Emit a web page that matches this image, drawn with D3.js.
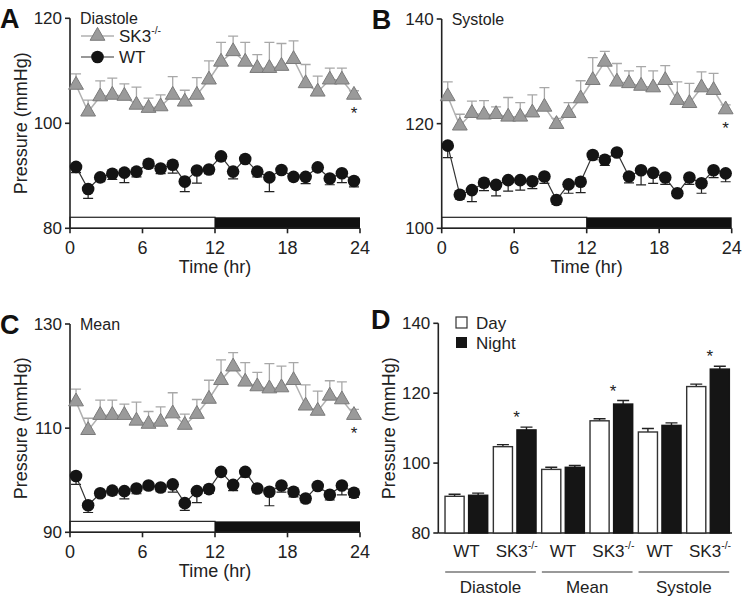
<!DOCTYPE html>
<html><head><meta charset="utf-8">
<script src="https://cdn.jsdelivr.net/npm/d3@7"></script>
<style>
body{margin:0;background:#fff;}
svg{display:block;font-family:"Liberation Sans",Arial,sans-serif;}
</style></head>
<body><svg id="c" width="742" height="597"></svg>
<script>
// ---------- data ----------
const hours = [0.5,1.5,2.5,3.5,4.5,5.5,6.5,7.5,8.5,9.5,10.5,11.5,12.5,13.5,14.5,15.5,16.5,17.5,18.5,19.5,20.5,21.5,22.5,23.5];
const xTicks = [0,6,12,18,24];

const diaSK3 = [107.3,102.2,105.1,105.4,105.2,103.5,102.9,103.2,105.4,104.1,105.4,108.3,111.7,113.7,111.7,110.5,110.5,110.9,112.2,107.6,106.0,108.3,108.3,105.4];
const diaSK3Err = [2.1,2.2,3.0,3.2,2.3,3.4,1.9,2.2,3.5,2.2,3.3,3.6,3.7,2.9,3.7,2.6,4.9,4.3,3.5,3.6,3.0,2.2,2.2,0.8];
const diaWT = [91.7,87.5,89.7,90.4,90.6,90.8,92.3,91.4,92.1,88.9,91.0,91.2,93.7,90.8,93.2,90.8,89.7,91.1,89.8,89.8,91.6,89.5,90.5,89.0];
const diaWTErr = [1.1,1.8,0.8,1.1,1.9,1.0,0.8,1.0,1.6,1.9,2.4,0.8,0.8,1.4,0.8,1.0,2.7,0.6,0.6,1.3,0.6,1.2,1.8,1.1];

const sysSK3 = [125.2,119.6,122.0,121.7,121.8,121.3,121.3,122.1,123.2,119.9,122.0,124.8,128.3,131.8,128.0,127.7,127.2,126.9,128.3,124.5,123.9,126.9,126.4,122.7];
const sysSK3Err = [2.8,2.2,2.3,2.7,1.4,3.7,2.7,3.4,3.7,1.1,2.0,3.4,4.3,2.0,3.5,2.4,3.7,3.2,2.8,3.5,3.8,3.0,3.2,0.9];
const sysWT = [115.8,106.4,107.3,108.7,108.3,109.2,109.2,109.0,109.9,105.4,108.4,108.9,114.0,113.1,114.5,109.9,111.1,110.6,109.7,106.7,109.7,108.6,111.1,110.5];
const sysWTErr = [2.3,0.8,2.2,1.5,2.1,2.1,1.9,1.4,1.3,0.8,1.7,2.1,0.9,1.1,0.7,1.2,2.8,2.0,1.3,0.6,1.3,1.9,1.4,1.6];

const meanSK3 = [115.1,109.6,112.5,112.5,112.5,111.4,110.8,111.2,112.8,110.6,112.7,115.6,119.2,121.8,118.9,118.0,117.6,117.8,119.2,114.3,113.3,116.2,115.5,112.5];
const meanSK3Err = [2.4,2.3,2.9,2.9,2.1,3.6,2.4,2.9,4.0,2.1,2.8,3.6,3.9,2.7,3.7,2.7,4.8,4.1,3.4,4.0,3.8,2.9,3.4,1.1];
const meanWT = [100.8,95.2,97.5,98.0,97.9,98.4,99.0,98.6,99.2,95.6,97.9,98.3,101.6,99.1,101.6,98.4,97.8,99.0,97.8,96.5,98.9,97.2,99.0,97.6];
const meanWTErr = [1.6,1.4,0.6,0.8,1.5,1.0,0.8,0.8,1.5,1.4,2.2,0.8,0.6,1.1,1.0,0.8,2.7,1.3,1.0,0.8,0.8,1.0,1.8,0.9];

const barGroups = ["WT","SK3","WT","SK3","WT","SK3"];
const barCategories = ["Diastole","Mean","Systole"];
const dayVals = [90.5,104.7,98.2,112.1,108.9,121.9];
const dayErr = [0.6,0.6,0.6,0.6,1.0,0.7];
const nightVals = [90.8,109.5,98.8,116.9,110.8,126.9];
const nightErr = [0.6,0.8,0.5,1.0,0.7,0.8];
const barTicks = [80,100,120,140];

// ---------- drawing ----------
const svg = d3.select("#c");
const FONT = 17;

function sk3Label(sel, fs){
  sel.append("tspan").text("SK3");
  sel.append("tspan").attr("dy", -fs*0.45).attr("font-size", fs*0.62).text("-/-");
}

function drawAxesY(g, y, x0, ticks){
  g.append("line").attr("x1",x0).attr("x2",x0).attr("y1",y.range()[0]).attr("y2",y.range()[1])
    .attr("stroke","#222").attr("stroke-width",1.6);
  ticks.forEach(t=>{
    g.append("line").attr("x1",x0-5).attr("x2",x0).attr("y1",y(t)).attr("y2",y(t)).attr("stroke","#222").attr("stroke-width",1.6);
    g.append("text").attr("x",x0-8).attr("y",y(t)+6).attr("text-anchor","end").attr("font-size",FONT).attr("fill","#222").text(t);
  });
}

function linePanel(o){
  const g = svg.append("g");
  const x = d3.scaleLinear().domain([0,24]).range([o.x0,o.x1]);
  const y = d3.scaleLinear().domain(o.ydom).range([o.y0,o.y1]);
  // light/dark bar
  const ybTop = y(o.ydom[0]+2.1);
  g.append("rect").attr("x",x(0)).attr("y",ybTop).attr("width",x(12)-x(0)).attr("height",y(o.ydom[0])-ybTop)
    .attr("fill","#fff").attr("stroke","#222").attr("stroke-width",1.2);
  g.append("rect").attr("x",x(12)).attr("y",ybTop).attr("width",x(24)-x(12)).attr("height",y(o.ydom[0])-ybTop)
    .attr("fill","#111");
  // axes
  drawAxesY(g, y, o.x0, o.yticks);
  g.append("line").attr("x1",o.x0).attr("x2",o.x1).attr("y1",o.y0).attr("y2",o.y0).attr("stroke","#222").attr("stroke-width",1.6);
  xTicks.forEach(t=>{
    g.append("line").attr("x1",x(t)).attr("x2",x(t)).attr("y1",o.y0).attr("y2",o.y0+5).attr("stroke","#222").attr("stroke-width",1.6);
    g.append("text").attr("x",x(t)).attr("y",o.y0+26).attr("text-anchor","middle").attr("font-size",18).attr("fill","#222").text(t);
  });
  g.append("text").attr("x",(o.x0+o.x1)/2).attr("y",o.y0+45).attr("text-anchor","middle").attr("font-size",18).attr("fill","#222").text("Time (hr)");
  if(o.ylabel){
    g.append("text").attr("transform",`translate(${o.x0-43},${(o.y0+o.y1)/2}) rotate(-90)`).attr("text-anchor","middle")
      .attr("font-size",18).attr("fill","#222").text("Pressure (mmHg)");
  }
  g.append("text").attr("x",o.x0-70+o.letterDx).attr("y",o.y1+10).attr("font-size",27).attr("font-weight","bold").attr("fill","#111").text(o.letter);
  g.append("text").attr("x",o.x0+10).attr("y",o.y1+6).attr("font-size",16).attr("fill","#222").text(o.title);

  // SK3 series
  const sk = o.sk3.map((v,i)=>({h:hours[i],v,e:o.sk3Err[i]}));
  g.selectAll(".eS").data(sk).enter().append("path")
    .attr("d",d=>`M${x(d.h)},${y(d.v)}V${y(d.v+d.e)}M${x(d.h)-5},${y(d.v+d.e)}H${x(d.h)+5}`)
    .attr("stroke","#a8a8a8").attr("stroke-width",1.3).attr("fill","none");
  g.append("path").datum(sk).attr("d",d3.line().x(d=>x(d.h)).y(d=>y(d.v)))
    .attr("fill","none").attr("stroke","#b0b0b0").attr("stroke-width",1.5);
  const tri = d3.symbol().type(d3.symbolTriangle).size(95);
  g.selectAll(".tS").data(sk).enter().append("path").attr("d",tri)
    .attr("transform",d=>`translate(${x(d.h)},${y(d.v)})`)
    .attr("fill","#9a9a9a").attr("stroke","#7a7a7a").attr("stroke-width",1);

  // WT series
  const wt = o.wt.map((v,i)=>({h:hours[i],v,e:o.wtErr[i]}));
  g.selectAll(".eW").data(wt).enter().append("path")
    .attr("d",d=>`M${x(d.h)},${y(d.v)}V${y(d.v-d.e)}M${x(d.h)-5},${y(d.v-d.e)}H${x(d.h)+5}`)
    .attr("stroke","#222").attr("stroke-width",1.2).attr("fill","none");
  g.append("path").datum(wt).attr("d",d3.line().x(d=>x(d.h)).y(d=>y(d.v)))
    .attr("fill","none").attr("stroke","#333").attr("stroke-width",1.2);
  g.selectAll(".cW").data(wt).enter().append("circle").attr("cx",d=>x(d.h)).attr("cy",d=>y(d.v)).attr("r",6.3)
    .attr("fill","#141414");
  // asterisk
  const last = sk[sk.length-1];
  g.append("text").attr("x",x(last.h)).attr("y",y(last.v)+o.starDy).attr("text-anchor","middle").attr("font-size",17).attr("fill","#222").text("*");
  return {g,x,y};
}

const A = linePanel({x0:70,x1:360,y0:228.3,y1:18.3,ydom:[80,120],yticks:[80,100,120],ylabel:true,letter:"A",letterDx:0,title:"Diastole",
  sk3:diaSK3,sk3Err:diaSK3Err,wt:diaWT,wtErr:diaWTErr,starDy:24});
const B = linePanel({x0:441.7,x1:731.7,y0:228.3,y1:19,ydom:[100,140],yticks:[100,120,140],ylabel:false,letter:"B",letterDx:0,title:"Systole",
  sk3:sysSK3,sk3Err:sysSK3Err,wt:sysWT,wtErr:sysWTErr,starDy:24});
const C = linePanel({x0:70,x1:360,y0:532.3,y1:324,ydom:[90,130],yticks:[90,110,130],ylabel:true,letter:"C",letterDx:0,title:"Mean",
  sk3:meanSK3,sk3Err:meanSK3Err,wt:meanWT,wtErr:meanWTErr,starDy:24});

// legend in A
{
  const g = A.g;
  g.append("line").attr("x1",81).attr("x2",114).attr("y1",36).attr("y2",36).attr("stroke","#b0b0b0").attr("stroke-width",1.5);
  g.append("path").attr("d",d3.symbol().type(d3.symbolTriangle).size(95)).attr("transform","translate(97.5,36)")
    .attr("fill","#9a9a9a").attr("stroke","#7a7a7a");
  const t1 = g.append("text").attr("x",119).attr("y",42).attr("font-size",17).attr("fill","#222");
  sk3Label(t1,17);
  g.append("line").attr("x1",81).attr("x2",114).attr("y1",57).attr("y2",57).attr("stroke","#333").attr("stroke-width",1.2);
  g.append("circle").attr("cx",97.5).attr("cy",57).attr("r",6.3).attr("fill","#141414");
  g.append("text").attr("x",119).attr("y",63).attr("font-size",17).attr("fill","#222").text("WT");
}

// ---------- panel D ----------
{
  const g = svg.append("g");
  const X0 = 438.3, XE = 732, Y0 = 533, Y1 = 323.3;
  const y = d3.scaleLinear().domain([80,140]).range([Y0,Y1]);
  const x = d3.scaleBand().domain(d3.range(barGroups.length)).range([442.2,732.2]).paddingInner(0).paddingOuter(0);
  const xs = d3.scaleBand().domain(["day","night"]).range([0,x.bandwidth()]).paddingInner(0.13).paddingOuter(0.09);
  drawAxesY(g, y, X0, barTicks);
  g.append("line").attr("x1",X0).attr("x2",XE).attr("y1",Y0).attr("y2",Y0).attr("stroke","#222").attr("stroke-width",1.6);
  const rows = [];
  barGroups.forEach((grp,i)=>{
    rows.push({i,k:"day",v:dayVals[i],e:dayErr[i]});
    rows.push({i,k:"night",v:nightVals[i],e:nightErr[i]});
  });
  // error bars
  g.selectAll(".eb").data(rows).enter().append("path")
    .attr("d",d=>{const cx=x(d.i)+xs(d.k)+xs.bandwidth()/2;return `M${cx},${y(d.v)}V${y(d.v+d.e)}M${cx-6},${y(d.v+d.e)}H${cx+6}`;})
    .attr("stroke","#222").attr("stroke-width",1.4).attr("fill","none");
  g.selectAll(".bar").data(rows).enter().append("rect")
    .attr("x",d=>x(d.i)+xs(d.k)+0.7).attr("y",d=>y(d.v)).attr("width",xs.bandwidth()-1.4).attr("height",d=>Y0-y(d.v))
    .attr("fill",d=>d.k==="day"?"#fff":"#151515").attr("stroke",d=>d.k==="day"?"#333":"#151515").attr("stroke-width",1.4);
  // asterisks above SK3 night
  rows.filter(d=>barGroups[d.i]==="SK3"&&d.k==="night").forEach(d=>{
    const cx=x(d.i)+xs("night")+xs.bandwidth()/2 - 10;
    g.append("text").attr("x",cx).attr("y",y(d.v+d.e)-4).attr("text-anchor","middle").attr("font-size",17).attr("fill","#222").text("*");
  });
  // x labels
  barGroups.forEach((grp,i)=>{
    const t = g.append("text").attr("x",x(i)+x.bandwidth()/2+ (grp==="SK3"?2:0)).attr("y",557).attr("text-anchor","middle").attr("font-size",17).attr("fill","#222");
    if(grp==="SK3") sk3Label(t,17); else t.text(grp);
  });
  barCategories.forEach((c,j)=>{
    const xa = x(2*j)+3, xb = x(2*j+1)+x.bandwidth()-3;
    g.append("line").attr("x1",xa).attr("x2",xb).attr("y1",572).attr("y2",572).attr("stroke","#777").attr("stroke-width",1.3);
    g.append("text").attr("x",(xa+xb)/2).attr("y",593).attr("text-anchor","middle").attr("font-size",17).attr("fill","#222").text(c);
  });
  g.append("text").attr("transform",`translate(${X0-43},${(Y0+Y1)/2}) rotate(-90)`).attr("text-anchor","middle")
    .attr("font-size",18).attr("fill","#222").text("Pressure (mmHg)");
  g.append("text").attr("x",371).attr("y",Y1+6).attr("font-size",27).attr("font-weight","bold").attr("fill","#111").text("D");
  // legend
  g.append("rect").attr("x",456).attr("y",317).attr("width",11).attr("height",11).attr("fill","#fff").attr("stroke","#333").attr("stroke-width",1.2);
  g.append("text").attr("x",476).attr("y",329).attr("font-size",17).attr("fill","#222").text("Day");
  g.append("rect").attr("x",456).attr("y",337).attr("width",11).attr("height",11).attr("fill","#151515");
  g.append("text").attr("x",476).attr("y",349).attr("font-size",17).attr("fill","#222").text("Night");
}
</script></body></html>
